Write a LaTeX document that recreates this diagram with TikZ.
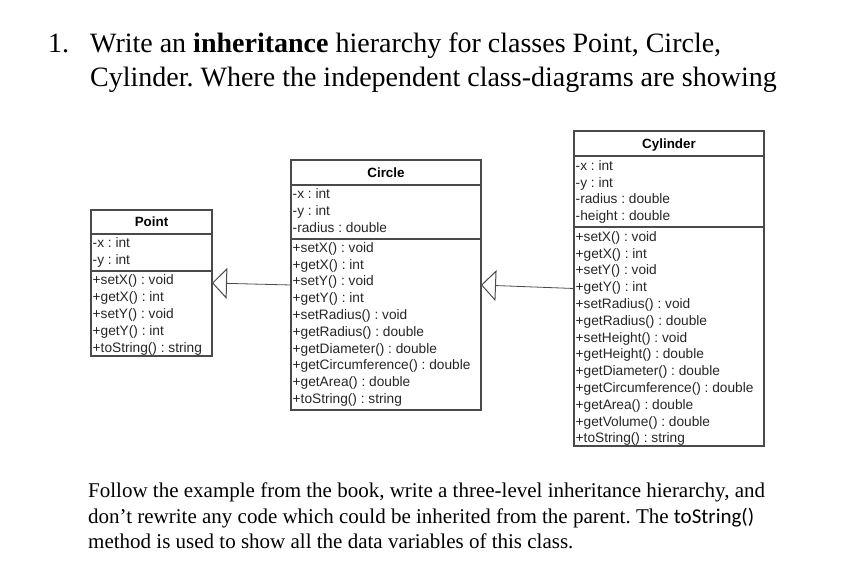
\documentclass[tikz,border=0pt]{standalone}
\usepackage{fontspec}
\setmainfont{Liberation Serif}
\setsansfont{Liberation Sans}
\newfontfamily\calib{Carlito}
\usetikzlibrary{arrows.meta}
\definecolor{boxc}{HTML}{4A4A4A}
\frenchspacing
\begin{document}
\begin{tikzpicture}[x=1pt,y=-1pt,
  classbox/.style={draw=boxc, line width=1.1pt, anchor=north west, inner sep=0pt, outer sep=0pt},
  mem/.style={anchor=base west, inner sep=0pt, font=\sffamily\fontsize{13.7}{16}\selectfont, text=black!85},
  ttl/.style={anchor=base, inner sep=0pt, font=\sffamily\bfseries\fontsize{13.4}{16}\selectfont},
  divl/.style={draw=boxc, line width=1.1pt},
  inh/.style={draw=boxc, line width=0.8pt, -{Triangle[open, length=15pt, width=31pt, fill=white, line width=1pt]}},
  head/.style={anchor=base west, inner sep=0pt, font=\fontsize{28}{34}\selectfont},
  body/.style={anchor=base west, inner sep=0pt, font=\fontsize{21}{25}\selectfont}]
\fill[white] (0,0) rectangle (864,572);
\useasboundingbox (0,0) rectangle (864,572);

% heading
\node[head] (h0) at (48,53) {1.};
\node[head] (h1) at (90,53) {Write an \textbf{inheritance} hierarchy for classes Point, Circle,};
\node[head] (h2) at (90,87) {Cylinder. Where the independent class-diagrams are showing};

% Point
\node[classbox, minimum width=121pt, minimum height=146pt] (Point) at (91,210) {};
\draw[divl] (91,234) -- (212,234);
\draw[divl] (91,271) -- (212,271);
\node[ttl] (pt) at (151.5,226.8) {Point};
\foreach[count=\i from 0] \t in {-x : int, -y : int}
  \node[mem] (pa\i) at (92.5, 247.8+\i*16.8) {\t};
\foreach[count=\i from 0] \t in {+setX() : void, +getX() : int, +setY() : void, +getY() : int, +toString() : string}
  \node[mem] (pm\i) at (92.5, 284.8+\i*16.8) {\t};

% Circle
\node[classbox, minimum width=190pt, minimum height=250pt] (Circle) at (291,160) {};
\draw[divl] (291,185) -- (481,185);
\draw[divl] (291,239) -- (481,239);
\node[ttl] (ct) at (386,177.3) {Circle};
\foreach[count=\i from 0] \t in {-x : int, -y : int, -radius : double}
  \node[mem] (ca\i) at (292.5, 198.8+\i*16.6) {\t};
\foreach[count=\i from 0] \t in {+setX() : void, +getX() : int, +setY() : void, +getY() : int, +setRadius() : void, +getRadius() : double, +getDiameter() : double, +getCircumference() : double, +getArea() : double, +toString() : string}
  \node[mem] (cm\i) at (292.5, 252.3+\i*16.8) {\t};

% Cylinder
\node[classbox, minimum width=190pt, minimum height=315pt] (Cylinder) at (574,131) {};
\draw[divl] (574,156) -- (764,156);
\draw[divl] (574,227) -- (764,227);
\node[ttl] (yt) at (669,148.3) {Cylinder};
\foreach[count=\i from 0] \t in {-x : int, -y : int, -radius : double, -height : double}
  \node[mem] (ya\i) at (575.5, 170.8+\i*16.4) {\t};
\foreach[count=\i from 0] \t in {+setX() : void, +getX() : int, +setY() : void, +getY() : int, +setRadius() : void, +getRadius() : double, +setHeight() : void, +getHeight() : double, +getDiameter() : double, +getCircumference() : double, +getArea() : double, +getVolume() : double, +toString() : string}
  \node[mem] (ym\i) at (575.5, 241.3+\i*16.8) {\t};

% inheritance
\draw[inh] (Circle.west) -- (Point.east);
\draw[inh] (Cylinder.west) -- (Circle.east);

% bottom text
\node[body] (b1) at (88,497) {Follow the example from the book, write a three-level inheritance hierarchy, and};
\node[body] (b2) at (88,523) {don’t rewrite any code which could be inherited from the parent. The {\calib toString()}};
\node[body] (b3) at (88,548) {method is used to show all the data variables of this class.};
\end{tikzpicture}
\end{document}
